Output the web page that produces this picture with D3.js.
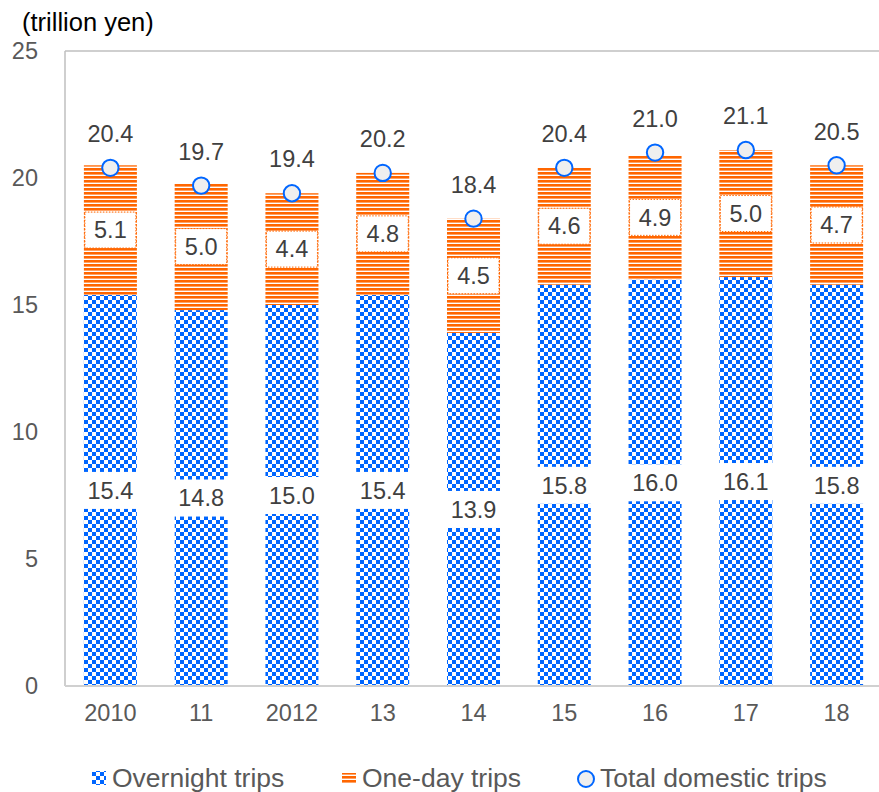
<!DOCTYPE html>
<html>
<head>
<meta charset="utf-8">
<script src="https://cdn.jsdelivr.net/npm/d3@7/dist/d3.min.js"></script>
<style>
  html, body { margin: 0; padding: 0; background: #fff; }
  svg { display: block; font-family: "Liberation Sans", Arial, sans-serif; }
</style>
</head>
<body>
<svg id="chart" width="879" height="792"></svg>
<script>
const categories = ["2010", "11", "2012", "13", "14", "15", "16", "17", "18"];
const overnight = [15.4, 14.8, 15.0, 15.4, 13.9, 15.8, 16.0, 16.1, 15.8];
const oneDay = [5.1, 5.0, 4.4, 4.8, 4.5, 4.6, 4.9, 5.0, 4.7];
const total = [20.4, 19.7, 19.4, 20.2, 18.4, 20.4, 21.0, 21.1, 20.5];
const yTicks = [0, 5, 10, 15, 20, 25];
const seriesNames = ["Overnight trips", "One-day trips", "Total domestic trips"];
const unitLabel = "(trillion yen)";

const BLUE = "#0066ff", ORANGE = "#ff6600";
const svg = d3.select("#chart");
const W = 879;
const plotL = 65, plotR = 882, plotT = 51, plotB = 686;
const FS = 23.5;

const x = d3.scaleBand().domain(categories).range([plotL, plotR])
  .paddingInner(0.416).paddingOuter(0.208);
const y = d3.scaleLinear().domain([0, 25]).range([plotB, plotT]);

const defs = svg.append("defs");
const chk = defs.append("pattern").attr("id", "chk").attr("patternUnits", "userSpaceOnUse")
  .attr("width", 8).attr("height", 8);
chk.append("rect").attr("width", 8).attr("height", 8).attr("fill", "#fff");
chk.append("rect").attr("x", 0).attr("y", 0).attr("width", 4).attr("height", 4).attr("fill", BLUE);
chk.append("rect").attr("x", 4).attr("y", 4).attr("width", 4).attr("height", 4).attr("fill", BLUE);

const str = defs.append("pattern").attr("id", "str").attr("patternUnits", "userSpaceOnUse")
  .attr("width", 4).attr("height", 4);
str.append("rect").attr("width", 4).attr("height", 4).attr("fill", "#fff");
str.append("rect").attr("x", 0).attr("y", 0).attr("width", 4).attr("height", 2.6).attr("fill", ORANGE);

const data = categories.map((c, i) => ({ c, o: overnight[i], d: oneDay[i], t: total[i] }));

// frame
svg.append("line").attr("x1", plotL).attr("x2", W).attr("y1", plotT).attr("y2", plotT)
  .attr("stroke", "#bfbfbf").attr("stroke-width", 1.5);
svg.append("line").attr("x1", plotL).attr("x2", plotL).attr("y1", plotT).attr("y2", plotB)
  .attr("stroke", "#bfbfbf").attr("stroke-width", 1.5);

// bars
const bw = x.bandwidth();
svg.append("g").selectAll("rect").data(data).join("rect")
  .attr("x", d => x(d.c)).attr("width", bw)
  .attr("y", d => y(d.o)).attr("height", d => y(0) - y(d.o))
  .attr("fill", "url(#chk)");
svg.append("g").selectAll("rect").data(data).join("rect")
  .attr("x", d => x(d.c)).attr("width", bw)
  .attr("y", d => y(d.o + d.d)).attr("height", d => y(d.o) - y(d.o + d.d))
  .attr("fill", "url(#str)");

// bottom axis line
svg.append("line").attr("x1", plotL).attr("x2", W).attr("y1", plotB).attr("y2", plotB)
  .attr("stroke", "#d0d0d0").attr("stroke-width", 2);

// overnight labels
const lo = svg.append("g");
data.forEach(d => {
  const cx = x(d.c) + bw / 2, cy = (y(0) + y(d.o)) / 2;
  lo.append("rect").attr("x", cx - bw / 2 - 1).attr("y", cy - 18.5).attr("width", bw + 2).attr("height", 37).attr("fill", "#fff");
  lo.append("text").attr("x", cx).attr("y", cy).attr("dy", "0.35em").attr("text-anchor", "middle")
    .attr("font-size", FS).attr("fill", "#404040").text(d.o.toFixed(1));
});
// one-day labels
const ld = svg.append("g");
data.forEach(d => {
  const cx = x(d.c) + bw / 2, cy = (y(d.o) + y(d.o + d.d)) / 2;
  ld.append("rect").attr("x", cx - bw / 2 + 1).attr("y", cy - 18).attr("width", bw - 2).attr("height", 36)
    .attr("fill", "#fff").attr("stroke", ORANGE).attr("stroke-width", 1).attr("stroke-dasharray", "1.5,1.5");
  ld.append("text").attr("x", cx).attr("y", cy).attr("dy", "0.35em").attr("text-anchor", "middle")
    .attr("font-size", FS).attr("fill", "#404040").text(d.d.toFixed(1));
});

// total markers
svg.append("g").selectAll("circle").data(data).join("circle")
  .attr("cx", d => x(d.c) + bw / 2).attr("cy", d => y(d.t)).attr("r", 8.2)
  .attr("fill", "#efefef").attr("stroke", BLUE).attr("stroke-width", 2);
svg.append("g").selectAll("text").data(data).join("text")
  .attr("x", d => x(d.c) + bw / 2).attr("y", d => y(d.t) - 34).attr("dy", "0.35em")
  .attr("text-anchor", "middle").attr("font-size", FS).attr("fill", "#404040")
  .text(d => d.t.toFixed(1));

// axes
const yAxis = svg.append("g").attr("transform", `translate(38,0)`)
  .call(d3.axisLeft(y).tickValues(yTicks).tickSize(0).tickPadding(0));
yAxis.select(".domain").remove();
yAxis.selectAll("text").attr("font-size", FS).attr("fill", "#595959")
  .attr("font-family", "Liberation Sans, Arial, sans-serif");

const xAxis = svg.append("g").attr("transform", `translate(0,${plotB})`)
  .call(d3.axisBottom(x).tickSize(0).tickPadding(18));
xAxis.select(".domain").remove();
xAxis.selectAll("text").attr("font-size", FS).attr("fill", "#595959")
  .attr("font-family", "Liberation Sans, Arial, sans-serif");

svg.append("text").attr("x", 22).attr("y", 31).attr("font-size", 25.5).attr("fill", "#000")
  .text(unitLabel);

// legend
const lg = svg.append("g");
const ly = 778;
const LFS = 26.5;
lg.append("rect").attr("x", 92).attr("y", ly - 7).attr("width", 14).attr("height", 14).attr("fill", "url(#chk)");
lg.append("text").attr("x", 112).attr("y", ly).attr("dy", "0.35em").attr("font-size", LFS).attr("fill", "#595959").text(seriesNames[0]);
lg.append("rect").attr("x", 342).attr("y", ly - 5).attr("width", 14).attr("height", 10).attr("fill", "url(#str)");
lg.append("text").attr("x", 362).attr("y", ly).attr("dy", "0.35em").attr("font-size", LFS).attr("fill", "#595959").text(seriesNames[1]);
lg.append("circle").attr("cx", 586).attr("cy", ly + 1).attr("r", 8).attr("fill", "#efefef").attr("stroke", BLUE).attr("stroke-width", 2);
lg.append("text").attr("x", 600).attr("y", ly).attr("dy", "0.35em").attr("font-size", LFS).attr("fill", "#595959").text(seriesNames[2]);
</script>
</body>
</html>
